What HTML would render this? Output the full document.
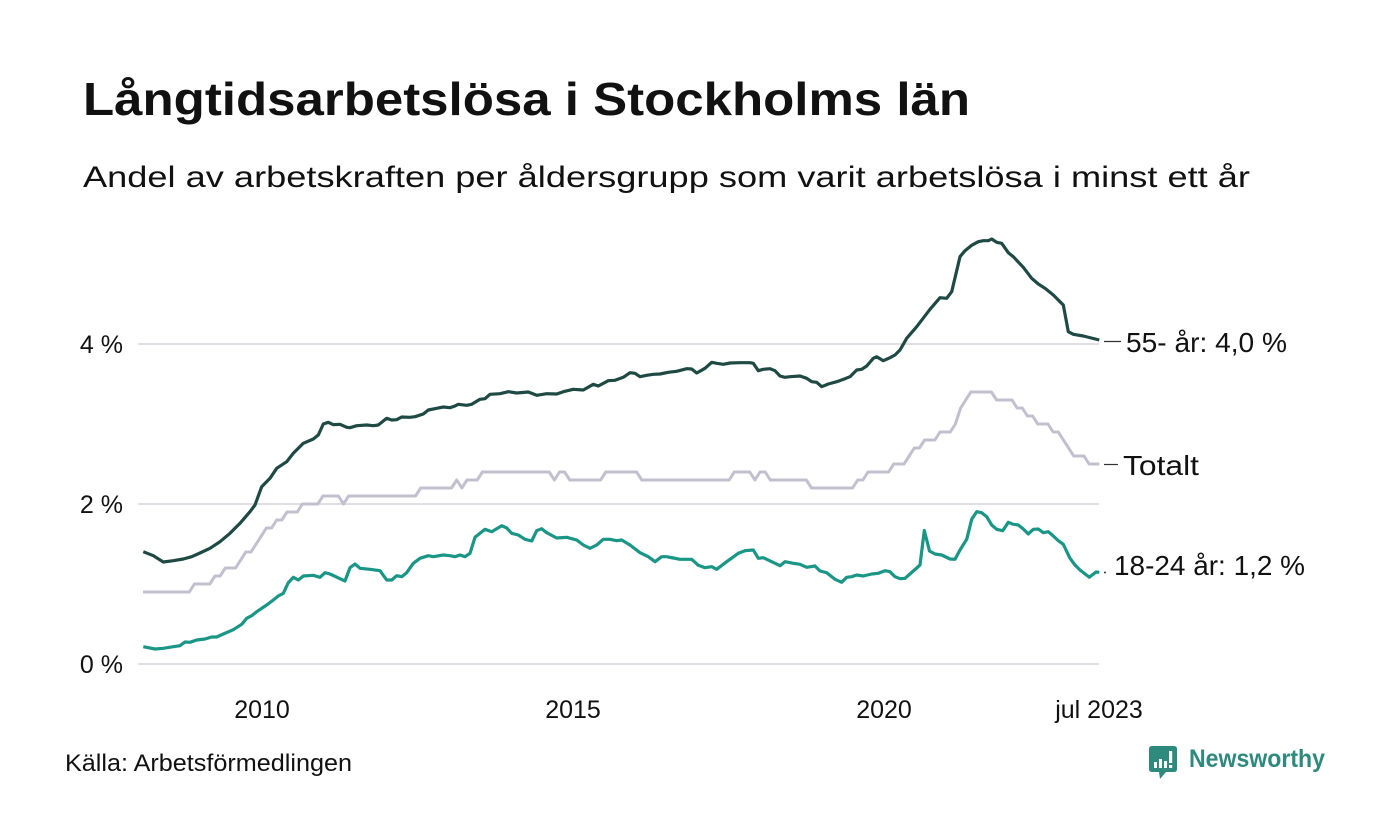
<!DOCTYPE html>
<html>
<head>
<meta charset="utf-8">
<style>
  html, body { margin: 0; padding: 0; background: #ffffff; }
  svg { display: block; }
  text { font-family: "Liberation Sans", "DejaVu Sans", sans-serif; fill: #111111; }
</style>
</head>
<body>
<svg width="1400" height="840" viewBox="0 0 1400 840" xmlns="http://www.w3.org/2000/svg">
  <rect x="0" y="0" width="1400" height="840" fill="#ffffff"/>

  <!-- Title & subtitle -->
  <text x="83" y="115" font-size="46.5" font-weight="bold" textLength="887" lengthAdjust="spacingAndGlyphs">Långtidsarbetslösa i Stockholms län</text>
  <text x="83" y="187" font-size="29.5" textLength="1167" lengthAdjust="spacingAndGlyphs">Andel av arbetskraften per åldersgrupp som varit arbetslösa i minst ett år</text>

  <!-- Gridlines -->
  <g stroke="#e0dfe5" stroke-width="2">
    <line x1="138" y1="344" x2="1099" y2="344"/>
    <line x1="138" y1="504" x2="1099" y2="504"/>
    <line x1="138" y1="664" x2="1099" y2="664"/>
  </g>

  <!-- Y tick labels -->
  <g font-size="25" text-anchor="end">
    <text x="123" y="353">4 %</text>
    <text x="123" y="513">2 %</text>
    <text x="123" y="673">0 %</text>
  </g>

  <!-- X tick labels -->
  <g font-size="25" text-anchor="middle">
    <text x="262" y="718">2010</text>
    <text x="573" y="718">2015</text>
    <text x="884" y="718">2020</text>
    <text x="1099" y="718">jul 2023</text>
  </g>

  <!-- Totalt (gray) -->
  <polyline fill="none" stroke="#c2c0cf" stroke-width="3" stroke-linejoin="round" stroke-linecap="butt"
    points="143,592 189.3,592 194.4,584 209.8,584 215,576 220.1,576 225.3,568 235.6,568 240.7,560 245.8,552 251,552 256.1,544 261.3,536 266.4,528 271.6,528 276.7,520 281.8,520 287,512 297.3,512 302.4,504 317.8,504 323,496 338.4,496 343.5,504 348.7,496 415.5,496 420.7,488 451.5,488 456.7,480 461.8,488 467,480 477.2,480 482.4,472 549.2,472 554.4,480 559.5,472 564.6,472 569.8,480 600.6,480 605.8,472 636.6,472 641.8,480 729.2,480 734.3,472 749.8,472 754.9,480 760,472 765.2,472 770.3,480 806.3,480 811.5,488 852.6,488 857.7,480 862.9,480 868,472 888.6,472 893.7,464 904,464 909.2,456 914.3,448 919.4,448 924.6,440 934.9,440 940,432 950.3,432 955.4,424 960.6,408 965.7,400 970.9,392 991.4,392 996.6,400 1012,400 1017.1,408 1022.3,408 1027.4,416 1032.6,416 1037.7,424 1048,424 1053.1,432 1058.3,432 1063.4,440 1068.6,448 1073.7,456 1084,456 1089.1,464 1099.4,464"/>

  <!-- 55- år (dark) -->
  <polyline fill="none" stroke="#1f4a43" stroke-width="3.2" stroke-linejoin="round" stroke-linecap="butt"
    points="143.3,551.7 153.3,555.7 163.3,562 173.3,560.7 183.3,559 191.7,556.7 200,553 210,548.3 220,541.7 230,533.3 240,523.3 250,511.7 255,505 261.7,486.7 270,478.3 276.7,468.3 286.7,461.7 293.3,453.3 303.3,443.3 313.3,439 318.3,435 323.3,424 328.3,422.3 333.3,424.7 340,424.3 346.7,427.3 350,427.7 356.7,425.7 366.7,425 373.3,425.7 378.3,425 386.7,418.3 391.7,420 396.7,419.7 401.7,417 410,417.3 415,416.7 423.3,414 428.3,410 436.7,408.3 443.3,407 450,407.7 455,406 458.3,404.3 466.7,405.3 471.7,404.3 480,399.3 485,398.7 490,394.3 500,393.7 508.3,391.7 516.7,393 528.3,392 536.7,395.3 546.7,393.7 556.7,394 563.3,391.7 573.3,389.3 583.3,390 593.3,384.3 598.3,386 608.3,380.7 615,380.3 623.3,377.3 630,372.7 635,373.3 640,376.7 646.7,375.3 653.3,374.3 660,374 668.3,372.3 676.7,371.3 686.7,368.7 691.7,369 696.7,373 705,368.3 711.7,362.3 716.7,363.3 723.3,364.3 730,363 740,362.7 750,362.7 753.3,363.3 758.3,370.7 763.3,369.3 770,368.7 775,370.7 780,376 785,377.3 790,376.7 800,376 806.7,378.3 811.7,381.7 816.7,382.3 821.7,386.7 828.3,384 836.7,381.7 845,378.7 850,376.7 856.7,370 861.7,369.3 866.7,366 873.3,358.3 876.7,356.7 883.3,360.7 890,357.7 895,355 900,350 906.7,338.3 916.7,326.7 930,309.3 940,297.7 946.7,298.3 951.7,291.7 960,256.7 965,250.7 971.7,245.3 978.3,241.7 983.3,240.7 988.3,240.7 991.7,239 996.7,242.3 1001.7,243.3 1008.3,252.7 1013.3,256.7 1023.3,267.3 1031.7,278.3 1038.3,284 1045,288.3 1053.3,295 1063.3,305 1068.3,331.7 1073.3,334.3 1083.3,336 1099.3,340"/>

  <!-- 18-24 år (teal) -->
  <polyline fill="none" stroke="#1a9686" stroke-width="3.2" stroke-linejoin="round" stroke-linecap="butt"
    points="143.3,646.7 155,649 163.3,648.3 173.3,646.7 180,645.7 185,642 190,642.3 196.7,640 205,639 211.7,637 216.7,637 223.3,634 233.3,629.7 241.7,624.3 246.7,618.3 251.7,615.7 256.7,611.7 266.7,605 273.3,600 278.3,596 283.3,593.3 288.3,582.7 293.3,577.3 298.3,580 303.3,576 313.3,575.3 320,577.3 325,572.7 330,574 340,578.7 345,581 350,567.7 355,564 360,568.3 370,569.3 380,570.7 386.7,580 391.7,580 396.7,575.7 401.7,576.7 406.7,572.7 413.3,563.3 420,558.3 428.3,555.7 433.3,556.7 443.3,555 450,555.7 455,556.7 460,555 465,556.7 470,553.3 475,537.3 485,529.3 491.7,531.7 501.7,525.7 506.7,528 511.7,533.3 518.3,535 525,539.3 531.7,541 536.7,530.7 541.7,528.7 546.7,532.7 556.7,538 566.7,537.3 576.7,540 583.3,545 590,548.3 596.7,545 603.3,539.3 610,539.3 616.7,540.7 621.7,540 630,545 640,552.7 648.3,556.7 655,561.7 661.7,556.7 666.7,556.7 673.3,558 680,559.3 691.7,559.3 698.3,565.3 705,567.7 711.7,566.7 716.7,569.3 726.7,561.7 738.3,553.3 745,550.7 753.3,550 758.3,558.3 763.3,557.7 771.7,561.7 780,565.7 785,561.7 793.3,563.3 800,564.3 806.7,567.3 815,566 820,571 826.7,572.7 835,579.3 841.7,582.3 846.7,577.3 851.7,576.7 856.7,575 863.3,576 871.7,574 878.3,573.3 885,570.7 890,571.7 895,576.7 900,578.7 905,578.3 913.3,571 920,565 924.3,530.5 929.5,551 935,554 941.7,555 950,559 955,559.3 960,550 966.7,539.3 971.7,519.3 976.7,511.7 981.7,512.7 986.7,516.7 991.7,525 996.7,529.3 1002.7,530.7 1008.3,522.3 1013.3,524.3 1018.3,525 1023.3,529 1028.3,534 1033.3,529.3 1038.3,529 1043.3,532.7 1048.3,531.7 1053.3,536 1058.3,540.7 1063.3,544.3 1070,558.3 1075,565 1080,570 1089.3,577.3 1096,572 1099.3,572.3"/>

  <!-- Leader marks -->
  <g stroke="#333333" stroke-width="1.2">
    <line x1="1104" y1="341.5" x2="1121" y2="341.5"/>
    <line x1="1104" y1="464.5" x2="1118" y2="464.5"/>
  </g>
  <circle cx="1105" cy="572.5" r="1" fill="#333333"/>

  <!-- End labels -->
  <g font-size="28">
    <text x="1126" y="352" textLength="161" lengthAdjust="spacingAndGlyphs">55- år: 4,0 %</text>
    <text x="1123" y="475" textLength="76" lengthAdjust="spacingAndGlyphs">Totalt</text>
    <text x="1114" y="575" textLength="191" lengthAdjust="spacingAndGlyphs">18-24 år: 1,2 %</text>
  </g>

  <!-- Footer -->
  <text x="65" y="771" font-size="24" textLength="287" lengthAdjust="spacingAndGlyphs">Källa: Arbetsförmedlingen</text>

  <!-- Newsworthy logo -->
  <g>
    <path d="M1152,746 H1174 Q1177,746 1177,749 V769 Q1177,772 1174,772 H1166 L1160,779 L1159,772 H1152 Q1149,772 1149,769 V749 Q1149,746 1152,746 Z" fill="#2f8a7e"/>
    <rect x="1154" y="762" width="3" height="6" fill="#ffffff"/>
    <rect x="1159" y="759" width="3" height="9" fill="#ffffff"/>
    <rect x="1164" y="761" width="3" height="7" fill="#ffffff"/>
    <rect x="1169" y="751" width="3.2" height="12" fill="#ffffff"/>
    <rect x="1169" y="765" width="3.2" height="3" fill="#ffffff"/>
    <text x="1189" y="767" font-size="25" font-weight="bold" textLength="136" lengthAdjust="spacingAndGlyphs" style="fill:#2f8a7e">Newsworthy</text>
  </g>
</svg>
</body>
</html>
